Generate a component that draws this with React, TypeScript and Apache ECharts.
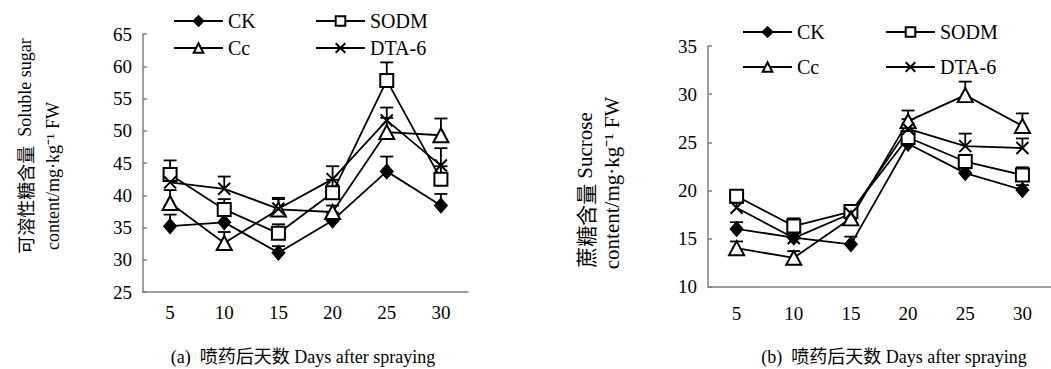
import React, { useEffect, useRef } from "react";
import * as echarts from "echarts";

const days = ["5", "10", "15", "20", "25", "30"];
const seriesNames = ["CK", "SODM", "Cc", "DTA-6"];

// (a) Soluble sugar
const sugarCK = [35.2, 35.8, 31.1, 36.1, 43.7, 38.4];
const sugarSODM = [43.2, 37.8, 34.1, 40.4, 57.8, 42.5];
const sugarCc = [38.8, 32.6, 37.8, 37.4, 49.8, 49.3];
const sugarDTA = [42.0, 41.0, 37.9, 42.5, 51.6, 44.6];
const sugarCKErr = [1.8, 1.5, 1.0, 1.2, 2.3, 1.8];
const sugarSODMErr = [2.2, 1.6, 1.4, 2.0, 2.8, 2.0];
const sugarCcErr = [2.0, 1.7, 1.6, 1.0, 2.2, 2.6];
const sugarDTAErr = [1.8, 1.9, 1.7, 2.0, 2.0, 2.7];

// (b) Sucrose
const sucCK = [16.0, 15.1, 14.4, 24.85, 21.8, 20.05];
const sucSODM = [19.4, 16.3, 17.8, 25.5, 23.0, 21.6];
const sucCc = [14.0, 13.0, 17.1, 27.2, 29.9, 26.7];
const sucDTA = [18.2, 15.05, 17.6, 26.4, 24.6, 24.4];
const sucCKErr = [0.7, 0.5, 0.8, 0.5, 0.5, 0.5];
const sucSODMErr = [0.5, 0.8, 0.4, 0.5, 0.7, 0.8];
const sucCcErr = [0.7, 0.7, 0.5, 1.1, 1.4, 1.3];
const sucDTAErr = [0.5, 0.5, 0.4, 1.0, 1.3, 1.0];

const FONT = "'Liberation Serif', 'Noto Sans CJK SC'";
const CJK = "'Noto Sans CJK SC'";
const CROSS = "path://M0,0L10,10M10,0L0,10";

const symbols: Record<string, any> = {
  CK: { symbol: "diamond", symbolSize: [13, 15], itemStyle: { color: "#000", borderColor: "#000", borderWidth: 1 } },
  SODM: { symbol: "emptyRect", symbolSize: 13, itemStyle: { color: "#000", borderColor: "#000", borderWidth: 2 } },
  Cc: { symbol: "emptyTriangle", symbolSize: [15, 14], itemStyle: { color: "#000", borderColor: "#000", borderWidth: 2 } },
  "DTA-6": { symbol: CROSS, symbolSize: 12, itemStyle: { color: "#000", borderColor: "#000", borderWidth: 2 } },
};

function lineSeries(name: string, data: number[], idx: number) {
  return {
    type: "line",
    name,
    data,
    xAxisIndex: idx,
    yAxisIndex: idx,
    ...symbols[name],
    showSymbol: true,
    lineStyle: { color: "#000", width: 1.8 },
    z: 3,
  };
}

function errSeries(name: string, vals: number[], errs: number[], idx: number) {
  return {
    type: "custom",
    name: "err-" + name,
    xAxisIndex: idx,
    yAxisIndex: idx,
    z: 2,
    encode: { x: 0, y: [1, 2] },
    data: vals.map((v, i) => [i, v, v + errs[i]]),
    renderItem: (params: any, api: any) => {
      const x = api.value(0);
      const p0 = api.coord([x, api.value(1)]);
      const p1 = api.coord([x, api.value(2)]);
      const st = { stroke: "#000", lineWidth: 1.8 };
      return {
        type: "group",
        children: [
          { type: "line", shape: { x1: p0[0], y1: p0[1], x2: p1[0], y2: p1[1] }, style: st },
          { type: "line", shape: { x1: p1[0] - 6.5, y1: p1[1], x2: p1[0] + 6.5, y2: p1[1] }, style: st },
        ],
      };
    },
  };
}

function xAxis(idx: number, margin: number) {
  return {
    type: "category",
    gridIndex: idx,
    data: days,
    boundaryGap: true,
    axisLine: { lineStyle: { color: "#808080", width: 1.5 } },
    axisTick: { inside: true, length: 5, lineStyle: { color: "#808080", width: 1.5 } },
    axisLabel: { color: "#000", fontFamily: FONT, fontSize: 19, margin },
  };
}

function yAxis(idx: number, min: number, max: number) {
  return {
    type: "value",
    gridIndex: idx,
    min,
    max,
    interval: 5,
    splitLine: { show: false },
    axisLine: { show: true, lineStyle: { color: "#808080", width: 1.5 } },
    axisTick: { show: true, inside: true, length: 4, lineStyle: { color: "#808080", width: 1.5 } },
    axisLabel: { color: "#000", fontFamily: FONT, fontSize: 19, margin: 11 },
  };
}

function legend(left: number, top: number, data: string[], gap: number) {
  return {
    left,
    top,
    orient: "vertical",
    data,
    itemWidth: 49,
    itemHeight: 12,
    itemGap: gap,
    textStyle: { color: "#000", fontFamily: FONT, fontSize: 20 },
    selectedMode: false,
  };
}

function vText(cn: string, en: string, x: number, y: number, size: number) {
  return {
    type: "text",
    x,
    y,
    rotation: Math.PI / 2,
    style: {
      text: (cn ? "{cn|" + cn + "}" : "") + "{en|" + en + "}",
      fill: "#000",
      align: "center",
      verticalAlign: "middle",
      rich: {
        cn: { fontFamily: CJK, fontSize: size, fill: "#000", fontWeight: "normal" },
        en: { fontFamily: FONT, fontSize: size, fill: "#000" },
      },
    },
  };
}

function hText(text: string, x: number, y: number, size: number) {
  return {
    type: "text",
    x,
    y,
    style: {
      text,
      fill: "#000",
      font: `${size}px ${FONT}`,
      align: "center",
      verticalAlign: "middle",
    },
  };
}

export default function App() {
  const ref = useRef<HTMLDivElement>(null);
  useEffect(() => {
    document.body.style.margin = "0";
    if (!ref.current) return;
    const chart = echarts.init(ref.current, undefined, { renderer: "svg" });
    const sugar = [sugarCK, sugarSODM, sugarCc, sugarDTA];
    const sugarErr = [sugarCKErr, sugarSODMErr, sugarCcErr, sugarDTAErr];
    const suc = [sucCK, sucSODM, sucCc, sucDTA];
    const sucErr = [sucCKErr, sucSODMErr, sucCcErr, sucDTAErr];
    const series: any[] = [];
    seriesNames.forEach((n, i) => {
      series.push(errSeries(n, sugar[i], sugarErr[i], 0));
      series.push(errSeries(n, suc[i], sucErr[i], 1));
    });
    seriesNames.forEach((n, i) => {
      series.push(lineSeries(n, sugar[i], 0));
      series.push(lineSeries(n, suc[i], 1));
    });
    chart.setOption({
      animation: false,
      backgroundColor: "#fff",
      grid: [
        { left: 143, top: 34, width: 325, height: 258 },
        { left: 708, top: 46, width: 348, height: 240.7 },
      ],
      xAxis: [xAxis(0, 11), xAxis(1, 17)],
      yAxis: [yAxis(0, 25, 65), yAxis(1, 10, 35)],
      legend: [
        legend(168, 6, ["CK", "Cc"], 7),
        legend(310, 6, ["SODM", "DTA-6"], 7),
        legend(737, 17, ["CK", "Cc"], 15),
        legend(880, 17, ["SODM", "DTA-6"], 15),
      ],
      graphic: [
        vText("可溶性糖含量", "  Soluble sugar", 25, 146, 18),
        vText("", "content/mg·kg⁻¹ FW", 53, 176, 18),
        vText("蔗糖含量", " Sucrose", 585, 190, 21),
        vText("", "content/mg·kg⁻¹ FW", 612, 183, 21),
        hText("(a)  喷药后天数 Days after spraying", 303, 357, 18),
        hText("(b)  喷药后天数 Days after spraying", 894, 357, 18),
      ],
      series,
    });
    return () => chart.dispose();
  }, []);
  return <div ref={ref} style={{ width: 1051, height: 369 }} />;
}
